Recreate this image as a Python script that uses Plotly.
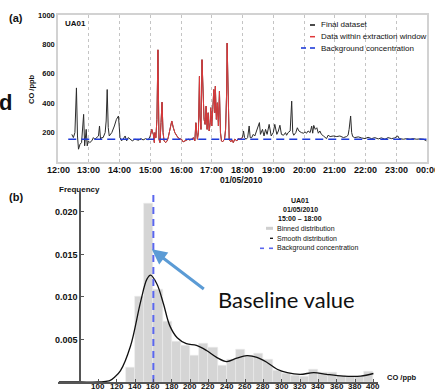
import plotly.graph_objects as go
import pandas as pd

W, H = 435, 390
FONT = "Liberation Sans, Arial, sans-serif"


def X(px):
    return px / W


def Y(py):
    return 1 - py / H


# ---------------- Panel (a): CO time series (01/05/2010) ----------------
times = [
    "12:27", "12:30", "12:33", "12:36", "12:38", "12:40", "12:43", "12:46", "12:50", "12:52",
    "12:55", "12:57", "12:59", "13:02", "13:06", "13:09", "13:12", "13:15", "13:19", "13:21",
    "13:23", "13:25", "13:28", "13:32", "13:34", "13:36", "13:38", "13:40", "13:45", "13:50",
    "13:54", "13:58", "14:01", "14:04", "14:07", "14:11", "14:14", "14:17", "14:20", "14:25",
    "14:30", "14:37", "14:42", "14:46", "14:51", "14:56",
    "15:00", "15:03", "15:06", "15:08", "15:09", "15:11", "15:13", "15:15", "15:17", "15:19",
    "15:21", "15:23", "15:25", "15:27", "15:30", "15:33", "15:35", "15:39", "15:42", "15:45",
    "15:48", "15:52", "15:56", "16:01", "16:04", "16:08", "16:11", "16:14", "16:17", "16:21",
    "16:24", "16:27", "16:29", "16:32", "16:34", "16:36", "16:37", "16:39", "16:41", "16:43",
    "16:45", "16:47", "16:49", "16:51", "16:53", "16:55", "16:57", "16:58", "17:00", "17:02",
    "17:04", "17:06", "17:07", "17:09", "17:11", "17:13", "17:15", "17:17", "17:19", "17:21",
    "17:23", "17:25", "17:27", "17:29", "17:30", "17:32", "17:33", "17:34", "17:37", "17:40",
    "17:42", "17:45", "17:49", "17:52", "17:55", "17:58", "18:00",
    "18:02", "18:04", "18:07", "18:10", "18:13", "18:15", "18:18", "18:21", "18:24", "18:28",
    "18:33", "18:35", "18:39", "18:42", "18:45", "18:48", "18:52", "18:56", "19:00", "19:03",
    "19:07", "19:10", "19:13", "19:16", "19:20", "19:24", "19:26", "19:29", "19:33", "19:36",
    "19:38", "19:40", "19:44", "19:47", "19:50", "19:55", "19:59", "20:02", "20:05", "20:08",
    "20:12", "20:15", "20:17", "20:19", "20:22", "20:25", "20:28", "20:31", "20:34", "20:38",
    "20:41", "20:44", "20:47", "20:51", "20:57", "21:04", "21:10", "21:17", "21:23", "21:26",
    "21:28", "21:31", "21:33", "21:35", "21:39", "21:46", "21:52", "21:59", "22:05", "22:12",
    "22:18", "22:25", "22:31", "22:38", "22:44", "22:51", "22:57", "23:03", "23:06", "23:14",
    "23:20", "23:27", "23:33", "23:40", "23:46", "23:53", "23:59",
]
co_ppb = [
    188, 166, 200, 504, 177, 87, 121, 132, 324, 110,
    222, 110, 144, 132, 144, 166, 155, 166, 177, 245,
    155, 166, 166, 200, 279, 493, 234, 177, 200, 245,
    290, 313, 166, 144, 155, 177, 144, 166, 155, 144,
    155, 148, 159, 150, 159, 150,
    177, 222, 188, 132, 200, 166, 290, 763, 155, 132,
    268, 407, 200, 144, 132, 144, 166, 245, 279, 234,
    200, 177, 159, 155, 137, 144, 150, 155, 150, 155,
    166, 144, 267, 155, 200, 583, 313, 222, 696, 448,
    290, 256, 380, 222, 335, 211, 267, 369, 245, 358,
    493, 335, 515, 290, 403, 245, 481, 200, 144, 137,
    144, 155, 222, 470, 809, 470, 222, 155, 137, 150,
    132, 155, 144, 159, 155, 166, 166,
    211, 166, 155, 166, 245, 166, 166, 188, 177, 222,
    268, 188, 222, 177, 222, 188, 256, 177, 200, 256,
    188, 211, 250, 188, 182, 200, 182, 200, 211, 414,
    200, 182, 200, 233, 211, 200, 196, 205, 196, 211,
    200, 244, 196, 249, 222, 233, 196, 211, 188, 177,
    166, 159, 182, 173, 177, 173, 177, 166, 173, 182,
    222, 313, 200, 173, 166, 171, 164, 159, 168, 159,
    166, 157, 164, 155, 166, 159, 164, 177, 159, 155,
    159, 155, 159, 155, 157, 155, 144,
]
window_start, window_end = "15:00", "18:00"
background_a = 155
background_span = ["12:20", "23:59"]
hour_ticks = ["12:00", "13:00", "14:00", "15:00", "16:00", "17:00", "18:00",
              "19:00", "20:00", "21:00", "22:00", "23:00", "00:00"]

# ---------------- Panel (b): distribution 15:00 - 18:00 ----------------
bin_start = [130, 140, 150, 160, 170, 180, 190, 200, 210, 220, 230, 240, 250, 260,
             270, 280, 290, 300, 310, 320, 330, 340, 350, 360, 370, 380, 390]
bin_freq = [0.0017, 0.0101, 0.0210, 0.0109, 0.0071, 0.0048, 0.0043, 0.0031, 0.0045,
            0.0040, 0.0019, 0.0026, 0.0038, 0.0031, 0.0034, 0.0026, 0.0013, 0.0010,
            0.0008, 0.0007, 0.0015, 0.0011, 0.0011, 0.0008, 0.0007, 0.0006, 0.0012]
smooth_x = [57, 80, 100, 110, 113, 118, 124, 135, 146, 153, 157, 164, 171, 178, 186,
            196, 207, 218, 229, 240, 251, 262, 273, 284, 295, 306, 320, 335, 349, 367,
            386, 400]
smooth_y = [0, 0, 0, 0.0001, 0.0002, 0.0006, 0.0013, 0.0042, 0.0094, 0.0121, 0.01256,
            0.0115, 0.0092, 0.0066, 0.0052, 0.0045, 0.0043, 0.0037, 0.0029, 0.0024,
            0.0028, 0.0031, 0.0029, 0.0023, 0.0015, 0.0011, 0.0009, 0.0011, 0.0009,
            0.0007, 0.0007, 0.0010]
background_b = 160
x_ticks_b = [100, 120, 140, 160, 180, 200, 220, 240, 260, 280, 300, 320, 340, 360, 380, 400]
y_ticks_b = [0.005, 0.010, 0.015, 0.020]

# ------------------------------------------------------------------------
day = "2010-05-01 "
t = pd.to_datetime([day + s for s in times])
s = pd.Series(co_ppb, index=t)
in_win = s[(s.index >= pd.Timestamp(day + window_start)) & (s.index <= pd.Timestamp(day + window_end))]
hour_vals = [pd.Timestamp(day + "12:00") + pd.Timedelta(hours=i) for i in range(len(hour_ticks))]

fig = go.Figure()

fig.add_trace(go.Scatter(x=s.index, y=s.values, mode="lines",
                         line=dict(color="#2b2b2b", width=1), xaxis="x", yaxis="y",
                         showlegend=False, name="Final dataset"))
fig.add_trace(go.Scatter(x=in_win.index, y=in_win.values, mode="lines",
                         line=dict(color="#e0383a", width=1), xaxis="x", yaxis="y",
                         showlegend=False, name="Data within extraction window"))
fig.add_trace(go.Scatter(x=pd.to_datetime([day + v for v in background_span]),
                         y=[background_a, background_a], mode="lines",
                         line=dict(color="#1f3bd8", width=1.6, dash="8px,5px"),
                         xaxis="x", yaxis="y", showlegend=False,
                         name="Background concentration"))

fig.add_trace(go.Bar(x=[b + 5 for b in bin_start], y=bin_freq, width=10,
                     marker=dict(color="#d5d5d5", line=dict(color="#ededed", width=0.6)),
                     xaxis="x2", yaxis="y2", showlegend=False, name="Binned distribution"))
fig.add_trace(go.Scatter(x=smooth_x, y=smooth_y, mode="lines",
                         line=dict(color="#111111", width=1.3, shape="spline", smoothing=1.0),
                         xaxis="x2", yaxis="y2", showlegend=False, name="Smooth distribution"))
fig.add_trace(go.Scatter(x=[background_b, background_b], y=[0, 0.0224], mode="lines",
                         line=dict(color="#5a66ee", width=2, dash="7px,5px"),
                         xaxis="x2", yaxis="y2", showlegend=False,
                         name="Background concentration"))

fig.update_layout(
    width=W, height=H, margin=dict(l=0, r=0, t=0, b=0, autoexpand=False),
    paper_bgcolor="white", plot_bgcolor="white",
    font=dict(family=FONT, color="#111"),
    bargap=0,
    xaxis=dict(domain=[X(58), X(427)], anchor="y", type="date", automargin=False,
               range=[day + "12:00", "2010-05-02 00:00"],
               tickvals=hour_vals, showticklabels=False,
               showgrid=True, gridcolor="#c4c4c4", griddash="dot", gridwidth=1,
               showline=True, mirror=True, linecolor="#d2d2d2", linewidth=1.5,
               ticks="", zeroline=False),
    yaxis=dict(domain=[Y(162), Y(15)], anchor="x", range=[0, 1000], automargin=False,
               tickvals=[200, 400, 600, 800, 1000],
               showgrid=False, showline=True, mirror=True, linecolor="#d2d2d2", linewidth=1.5,
               ticks="", zeroline=False,
               tickfont=dict(family=FONT, size=7.5, color="#111", weight="bold")),
    xaxis2=dict(domain=[X(58), X(378)], anchor="y2", range=[56, 405], automargin=False,
                tickvals=x_ticks_b, showticklabels=False, showgrid=False, showline=True,
                linecolor="#555", linewidth=1.5, ticks="inside", ticklen=3,
                tickcolor="#555", zeroline=False),
    yaxis2=dict(domain=[Y(382), Y(191.5)], anchor="free", position=X(80), automargin=False,
                range=[0, 0.0224], tickvals=y_ticks_b,
                ticktext=["%.3f" % v for v in y_ticks_b],
                showgrid=False, showline=True, linecolor="#555", linewidth=1.5,
                ticks="inside", ticklen=3, tickcolor="#555", zeroline=False,
                tickfont=dict(family=FONT, size=9, color="#111", weight="bold")),
)

ann = []


def txt(text, px, py, size, bold=False, xanchor="left", color="#111", family=FONT, yanchor="middle"):
    ann.append(dict(text=text, x=X(px), y=Y(py), xref="paper", yref="paper",
                    xanchor=xanchor, yanchor=yanchor, showarrow=False,
                    font=dict(family=family, size=size, color=color,
                              weight="bold" if bold else "normal")))


# x tick labels (drawn as annotations on the data axes so edge labels are kept)
for v, lab in zip(hour_vals, hour_ticks):
    ann.append(dict(text=lab, x=v, xref="x", y=Y(169.5), yref="paper", showarrow=False,
                    xanchor="center", yanchor="middle",
                    font=dict(family=FONT, size=9, color="#111", weight="bold")))
for v in x_ticks_b:
    ann.append(dict(text=str(v), x=v, xref="x2", y=Y(381), yref="paper", showarrow=False,
                    xanchor="center", yanchor="top", borderpad=0,
                    font=dict(family=FONT, size=8, color="#111", weight="bold")))

# panel labels and axis titles
txt("(a)", 16, 18, 11, True, "center")
txt("(b)", 16, 197, 11, True, "center")
txt("UA01", 75, 23, 8, True, "center")
ann.append(dict(text="CO /ppb", x=X(32), y=Y(89), xref="paper", yref="paper",
                showarrow=False, textangle=-90, xanchor="center", yanchor="middle",
                font=dict(family=FONT, size=7.5, color="#111", weight="bold")))
txt("01/05/2010", 242, 180, 8.5, True, "center")
txt("Frequency", 79, 189, 8, True, "center")
txt("CO /ppb", 385, 377, 7.5, True, "left")

# legend (a)
txt("Final dataset", 319, 25, 8)
txt("Data within extraction window", 319, 36.7, 8)
txt("Background concentration", 319, 48, 8)

# legend (b)
txt("UA01", 300, 200.7, 7, True, "center")
txt("01/05/2010", 300, 209, 7, True, "center")
txt("15:00 \u2013 18:00", 300, 218.3, 7, True, "center")
txt("Binned distribution", 275, 228.3, 7)
txt("Smooth distribution", 275, 238.3, 7)
txt("Background concentration", 275, 248.3, 7)

# slide annotation
txt("Baseline value", 286, 299, 22, False, "center", "#111", "Lato, Open Sans, sans-serif")
ann.append(dict(text=" ", x=158.3, y=0.0156, xref="x2", yref="y2",
                ax=55, ay=42, axref="pixel", ayref="pixel",
                showarrow=True, arrowhead=2, arrowsize=1, arrowwidth=3,
                arrowcolor="#5b9bd5", standoff=0, startstandoff=0))
txt("d", 5, 103, 22, True, "center")

fig.update_layout(annotations=ann)

shapes = []


def seg(x0, x1, py, color, width):
    shapes.append(dict(type="line", xref="paper", yref="paper", x0=X(x0), x1=X(x1),
                       y0=Y(py), y1=Y(py), line=dict(color=color, width=width)))


seg(310, 315, 25, "#111", 1.5)
seg(310, 315, 36.7, "#e0383a", 1.5)
seg(301, 306, 48, "#1f3bd8", 1.6)
seg(310, 315, 48, "#1f3bd8", 1.6)

seg(266, 273, 228.3, "#cfcfcf", 3)
seg(270, 273, 238.3, "#111", 1.3)
seg(260, 264, 248.3, "#5a66ee", 1.6)
seg(269, 273, 248.3, "#5a66ee", 1.6)

fig.update_layout(shapes=shapes)

fig.write_html("out.html", config={"displayModeBar": False},
               post_script="document.body.style.margin='0px';document.body.style.overflow='hidden';")
